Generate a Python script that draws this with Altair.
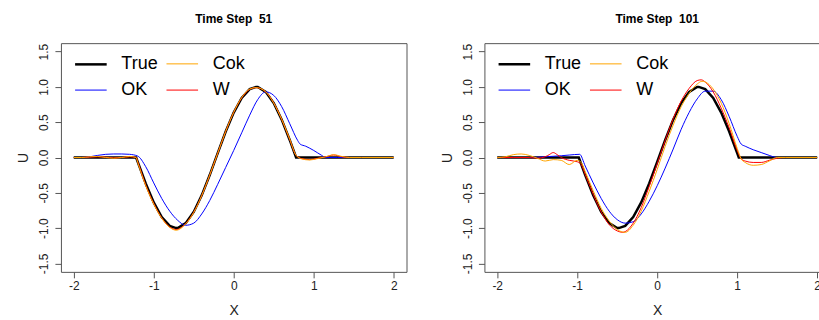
import altair as alt
import pandas as pd

# ---------------- data ----------------
SERIES = ["True", "OK", "Cok", "W"]          # legend order
COLORS = ["#000000", "#0000FF", "#FFA500", "#FF0000"]
WIDTHS = [2.5, 1, 1, 1]
DRAW_ORDER = ["True", "OK", "W", "Cok"]

X_TICKS = [-2, -1, 0, 1, 2]
Y_TICKS = [-1.5, -1.0, -0.5, 0.0, 0.5, 1.0, 1.5]

# Time Step 51
L_TRUE_X = [-2.0, -1.22, -1.2, -1.1, -1.0, -0.9, -0.8, -0.72, -0.7, -0.6, -0.5, -0.4, -0.3,
            -0.2, -0.1, 0.0, 0.1, 0.2, 0.28, 0.3, 0.4, 0.5, 0.6, 0.7, 0.78, 2.0]
L_TRUE_Y = [0, 0, -0.063, -0.368, -0.637, -0.844, -0.968, -1.0, -0.998, -0.930, -0.771, -0.536,
            -0.249, 0.063, 0.368, 0.637, 0.844, 0.968, 1.0, 0.998, 0.930, 0.771, 0.536, 0.249, 0, 0]

L_OK_X = [-2.0, -1.9, -1.8, -1.7, -1.6, -1.5, -1.4, -1.3, -1.2, -1.1, -1.0, -0.9, -0.8, -0.7,
          -0.6, -0.5, -0.4, -0.3, -0.2, -0.1, 0.0, 0.1, 0.2, 0.3, 0.4, 0.5, 0.6, 0.7, 0.8, 0.83,
          0.9, 1.0, 1.1, 1.15, 1.3, 2.0]
L_OK_Y = [0.0, 0.0, 0.01, 0.03, 0.045, 0.05, 0.05, 0.045, 0.02, -0.13, -0.36, -0.58, -0.76, -0.89,
          -0.96, -0.93, -0.8, -0.61, -0.38, -0.14, 0.1, 0.35, 0.6, 0.82, 0.93, 0.88, 0.72, 0.48,
          0.24, 0.19, 0.16, 0.1, 0.03, 0.0, 0.0, 0.0]

L_EST_X = [-2.0, -1.9, -1.8, -1.7, -1.6, -1.5, -1.4, -1.3, -1.22, -1.2, -1.1, -1.0, -0.9, -0.8,
           -0.72, -0.6, -0.5, -0.4, -0.3, -0.2, -0.1, 0.0, 0.1, 0.2, 0.28, 0.4, 0.5, 0.6, 0.7,
           0.78, 0.85, 0.95, 1.05, 1.15, 1.25, 1.35, 1.45, 1.6, 2.0]
L_COK_Y = [0.0, 0.0, 0.01, 0.015, 0.0, -0.01, 0.0, 0.015, 0.0, -0.07, -0.4, -0.66, -0.86, -0.99,
           -1.03, -0.94, -0.78, -0.54, -0.25, 0.06, 0.37, 0.64, 0.85, 0.97, 0.99, 0.93, 0.77,
           0.54, 0.26, 0.03, -0.02, -0.035, -0.015, 0.01, 0.04, 0.015, 0.0, 0.0, 0.0]
L_W_Y = [0.0, 0.0, 0.005, 0.01, 0.005, -0.005, 0.0, 0.01, 0.0, -0.06, -0.39, -0.65, -0.855,
         -0.985, -1.02, -0.935, -0.775, -0.54, -0.25, 0.06, 0.37, 0.64, 0.845, 0.965, 0.99, 0.93,
         0.775, 0.54, 0.255, 0.03, -0.015, -0.03, -0.01, 0.01, 0.035, 0.01, 0.0, 0.0, 0.0]

# Time Step 101
R_TRUE_X = [-2.0, -0.98, -0.9, -0.8, -0.7, -0.6, -0.5, -0.48, -0.4, -0.3, -0.2, -0.1, 0.0, 0.1,
            0.2, 0.3, 0.4, 0.5, 0.52, 0.6, 0.7, 0.8, 0.9, 1.0, 1.02, 2.0]
R_TRUE_Y = [0, 0, -0.249, -0.536, -0.771, -0.930, -0.998, -1.0, -0.968, -0.844, -0.637, -0.368,
            -0.063, 0.249, 0.536, 0.771, 0.930, 0.998, 1.0, 0.968, 0.844, 0.637, 0.368, 0.063, 0, 0]

R_OK_X = [-2.0, -1.8, -1.6, -1.4, -1.2, -1.1, -0.97, -0.9, -0.8, -0.7, -0.6, -0.5, -0.4, -0.3,
          -0.2, -0.1, 0.0, 0.1, 0.2, 0.3, 0.4, 0.5, 0.6, 0.7, 0.8, 0.9, 1.0, 1.05, 1.1, 1.2, 1.3,
          1.4, 1.5, 1.6, 2.0]
R_OK_Y = [0.0, 0.0, 0.0, 0.01, 0.025, 0.035, 0.045, -0.12, -0.36, -0.58, -0.76, -0.88, -0.93,
          -0.91, -0.8, -0.62, -0.4, -0.15, 0.12, 0.4, 0.64, 0.83, 0.94, 0.94, 0.82, 0.58, 0.3,
          0.19, 0.16, 0.11, 0.07, 0.03, 0.0, 0.0, 0.0]

R_COK_X = [-2.0, -1.9, -1.8, -1.7, -1.6, -1.5, -1.4, -1.3, -1.2, -1.1, -1.0, -0.95, -0.9, -0.8,
           -0.7, -0.6, -0.5, -0.4, -0.3, -0.2, -0.1, 0.0, 0.1, 0.2, 0.3, 0.4, 0.5, 0.56, 0.6,
           0.7, 0.8, 0.9, 1.0, 1.05, 1.1, 1.2, 1.3, 1.4, 1.5, 1.6, 2.0]
R_COK_Y = [0.0, 0.01, 0.04, 0.05, 0.03, -0.01, -0.05, -0.03, -0.04, -0.1, -0.04, -0.07, -0.2,
           -0.47, -0.72, -0.9, -1.02, -1.06, -0.96, -0.76, -0.48, -0.17, 0.16, 0.46, 0.72, 0.91,
           1.04, 1.08, 1.07, 0.97, 0.77, 0.48, 0.13, -0.02, -0.07, -0.11, -0.1, -0.05, 0.0, 0.0,
           0.0]

R_W_X = [-2.0, -1.8, -1.6, -1.5, -1.4, -1.35, -1.3, -1.25, -1.2, -1.1, -1.0, -0.95, -0.9, -0.8,
         -0.7, -0.6, -0.5, -0.43, -0.4, -0.3, -0.2, -0.1, 0.0, 0.1, 0.2, 0.3, 0.4, 0.5, 0.55,
         0.6, 0.7, 0.8, 0.9, 1.0, 1.05, 1.1, 1.2, 1.3, 1.4, 1.5, 1.6, 2.0]
R_W_Y = [0.0, 0.0, 0.0, -0.01, 0.01, 0.04, 0.07, 0.04, 0.0, -0.04, -0.06, -0.1, -0.24, -0.52,
         -0.77, -0.95, -1.04, -1.06, -1.05, -0.93, -0.71, -0.41, -0.09, 0.24, 0.55, 0.8, 0.98,
         1.09, 1.1, 1.07, 0.93, 0.7, 0.42, 0.1, -0.02, -0.05, -0.07, -0.07, -0.04, -0.01, 0.0,
         0.0]


def frame(pairs):
    rows = []
    for name, xs, ys in pairs:
        for xv, yv in zip(xs, ys):
            rows.append({"series": name, "x": xv, "y": yv})
    return pd.DataFrame(rows)


left_df = frame([("True", L_TRUE_X, L_TRUE_Y), ("OK", L_OK_X, L_OK_Y),
                 ("Cok", L_EST_X, L_COK_Y), ("W", L_EST_X, L_W_Y)])
right_df = frame([("True", R_TRUE_X, R_TRUE_Y), ("OK", R_OK_X, R_OK_Y),
                  ("Cok", R_COK_X, R_COK_Y), ("W", R_W_X, R_W_Y)])

FONT = "Liberation Sans"


def panel(df, title):
    x = alt.X("x:Q", scale=alt.Scale(domain=[-2.16, 2.16], nice=False, zero=False),
              axis=alt.Axis(values=X_TICKS, title="X",
                            labelExpr="datum.value < 0 ? '-' + format(-datum.value, 'd') : format(datum.value, 'd')"))
    y = alt.Y("y:Q", scale=alt.Scale(domain=[-1.62, 1.62], nice=False, zero=False),
              axis=alt.Axis(values=Y_TICKS, title="U", labelAngle=270, labelAlign="center",
                            labelBaseline="bottom",
                            labelExpr="datum.value < 0 ? '-' + format(-datum.value, '.1f') : format(datum.value, '.1f')"))
    leg = alt.Legend(title=None, orient="none", legendX=12.5, legendY=3.5, columns=2,
                     symbolType="stroke", symbolSize=1000, labelOffset=13, labelFontSize=18,
                     labelFont=FONT, labelColor="#000", rowPadding=-9.5, columnPadding=5.5,
                     padding=0)
    color = alt.Color("series:N", scale=alt.Scale(domain=SERIES, range=COLORS), legend=leg)
    sw = alt.StrokeWidth("series:N", scale=alt.Scale(type="ordinal", domain=SERIES, range=WIDTHS),
                         legend=leg)
    layers = []
    for s in DRAW_ORDER:
        interp = "linear" if s == "True" else "monotone"
        layers.append(
            alt.Chart(df).transform_filter(alt.datum.series == s)
            .mark_line(interpolate=interp, clip=True)
            .encode(x=x, y=y, color=color, strokeWidth=sw)
        )
    return alt.layer(*layers).properties(
        width=346, height=229,
        title=alt.TitleParams(title, anchor="middle", offset=17),
    )


chart = (
    alt.hconcat(panel(left_df, "Time Step \u00a051"), panel(right_df, "Time Step \u00a0101"), spacing=32)
    .resolve_scale(color="independent", strokeWidth="independent")
    .resolve_legend(color="independent", strokeWidth="independent")
    .properties(padding={"left": 16, "top": 12, "right": -12, "bottom": 0})
    .configure_view(stroke="#555555", strokeWidth=1)
    .configure_axis(domain=False, grid=False, tickColor="#555555", tickSize=6, tickWidth=1,
                    labelFont=FONT, labelFontSize=12, labelColor="#222222", labelPadding=4,
                    titleFont=FONT, titleFontSize=14, titleFontWeight="normal",
                    titleColor="#222222")
    .configure_axisX(labelPadding=3, titlePadding=12)
    .configure_axisY(titlePadding=7)
    .configure_title(font=FONT, fontSize=12, fontWeight="bold", color="#000000")
)

chart.save("out.html", embed_options={"renderer": "svg", "actions": False})
